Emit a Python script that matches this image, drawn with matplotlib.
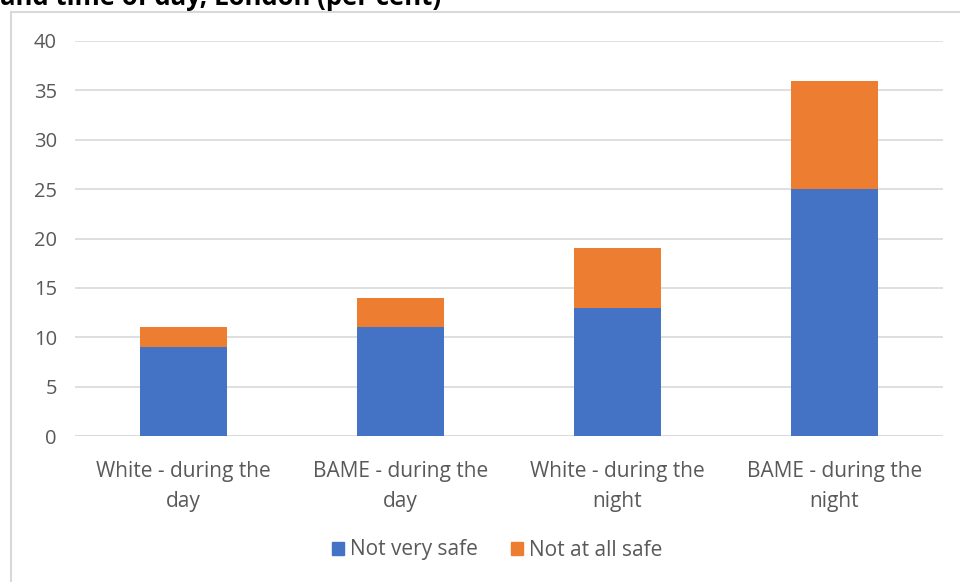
import matplotlib
matplotlib.use("Agg")
import matplotlib.pyplot as plt
from matplotlib.lines import Line2D
from matplotlib.patches import Patch

categories = ["White - during the\nday", "BAME - during the\nday",
              "White - during the\nnight", "BAME - during the\nnight"]
not_very_safe = [9, 11, 13, 25]
not_at_all_safe = [2, 3, 6, 11]
y_ticks = [0, 5, 10, 15, 20, 25, 30, 35, 40]

BLUE = "#4472C4"
ORANGE = "#ED7D31"
GRID = "#D9D9D9"
TEXT = "#595959"
FONT = ["Open Sans", "DejaVu Sans"]

W, H = 960, 582
fig = plt.figure(figsize=(W / 100, H / 100), dpi=100)
plt.rcParams["font.family"] = FONT

# plot area in pixel coordinates
left, right, top, bottom = 75, 943, 41, 436
ax = fig.add_axes([left / W, 1 - bottom / H, (right - left) / W, (bottom - top) / H])

x = range(len(categories))
ax.bar(x, not_very_safe, width=0.4, color=BLUE, zorder=3)
ax.bar(x, not_at_all_safe, width=0.4, bottom=not_very_safe, color=ORANGE, zorder=3)

ax.set_xlim(-0.5, len(categories) - 0.5)
ax.set_ylim(0, 40)
ax.set_yticks(y_ticks)
ax.set_yticklabels([str(v) for v in y_ticks])
ax.set_xticks(list(x))
ax.set_xticklabels(categories, linespacing=1.55)
ax.yaxis.grid(True, color=GRID, linewidth=1.2, zorder=0)
ax.set_axisbelow(True)
for s in ax.spines.values():
    s.set_visible(False)
ax.tick_params(axis="y", length=0, pad=13, labelsize=14.5, labelcolor=TEXT)
ax.tick_params(axis="x", length=0, pad=18, labelsize=15, labelcolor=TEXT)
ax.axhline(0, color=GRID, linewidth=1.2, zorder=1)

# chart frame (top and left edges)
fig.add_artist(Line2D([11 / W, 1], [1 - 12 / H, 1 - 12 / H], color=GRID, linewidth=1.5,
                      transform=fig.transFigure))
fig.add_artist(Line2D([11 / W, 11 / W], [0, 1 - 12 / H], color=GRID, linewidth=1.5,
                      transform=fig.transFigure))

# title, partly above the frame
fig.text(0, 1 - 5 / H, "and time of day, London (per cent)", fontsize=18.5,
         fontweight="bold", color="black", va="baseline", ha="left")

handles = [Patch(color=BLUE, label="Not very safe"),
           Patch(color=ORANGE, label="Not at all safe")]
leg = fig.legend(handles=handles, loc="center", bbox_to_anchor=(497 / W, 1 - 550 / H),
                 ncol=2, frameon=False, fontsize=15, handlelength=0.6, handleheight=0.6,
                 handletextpad=0.25, columnspacing=1.6)
for t in leg.get_texts():
    t.set_color(TEXT)

fig.savefig("out.png", dpi=100)
